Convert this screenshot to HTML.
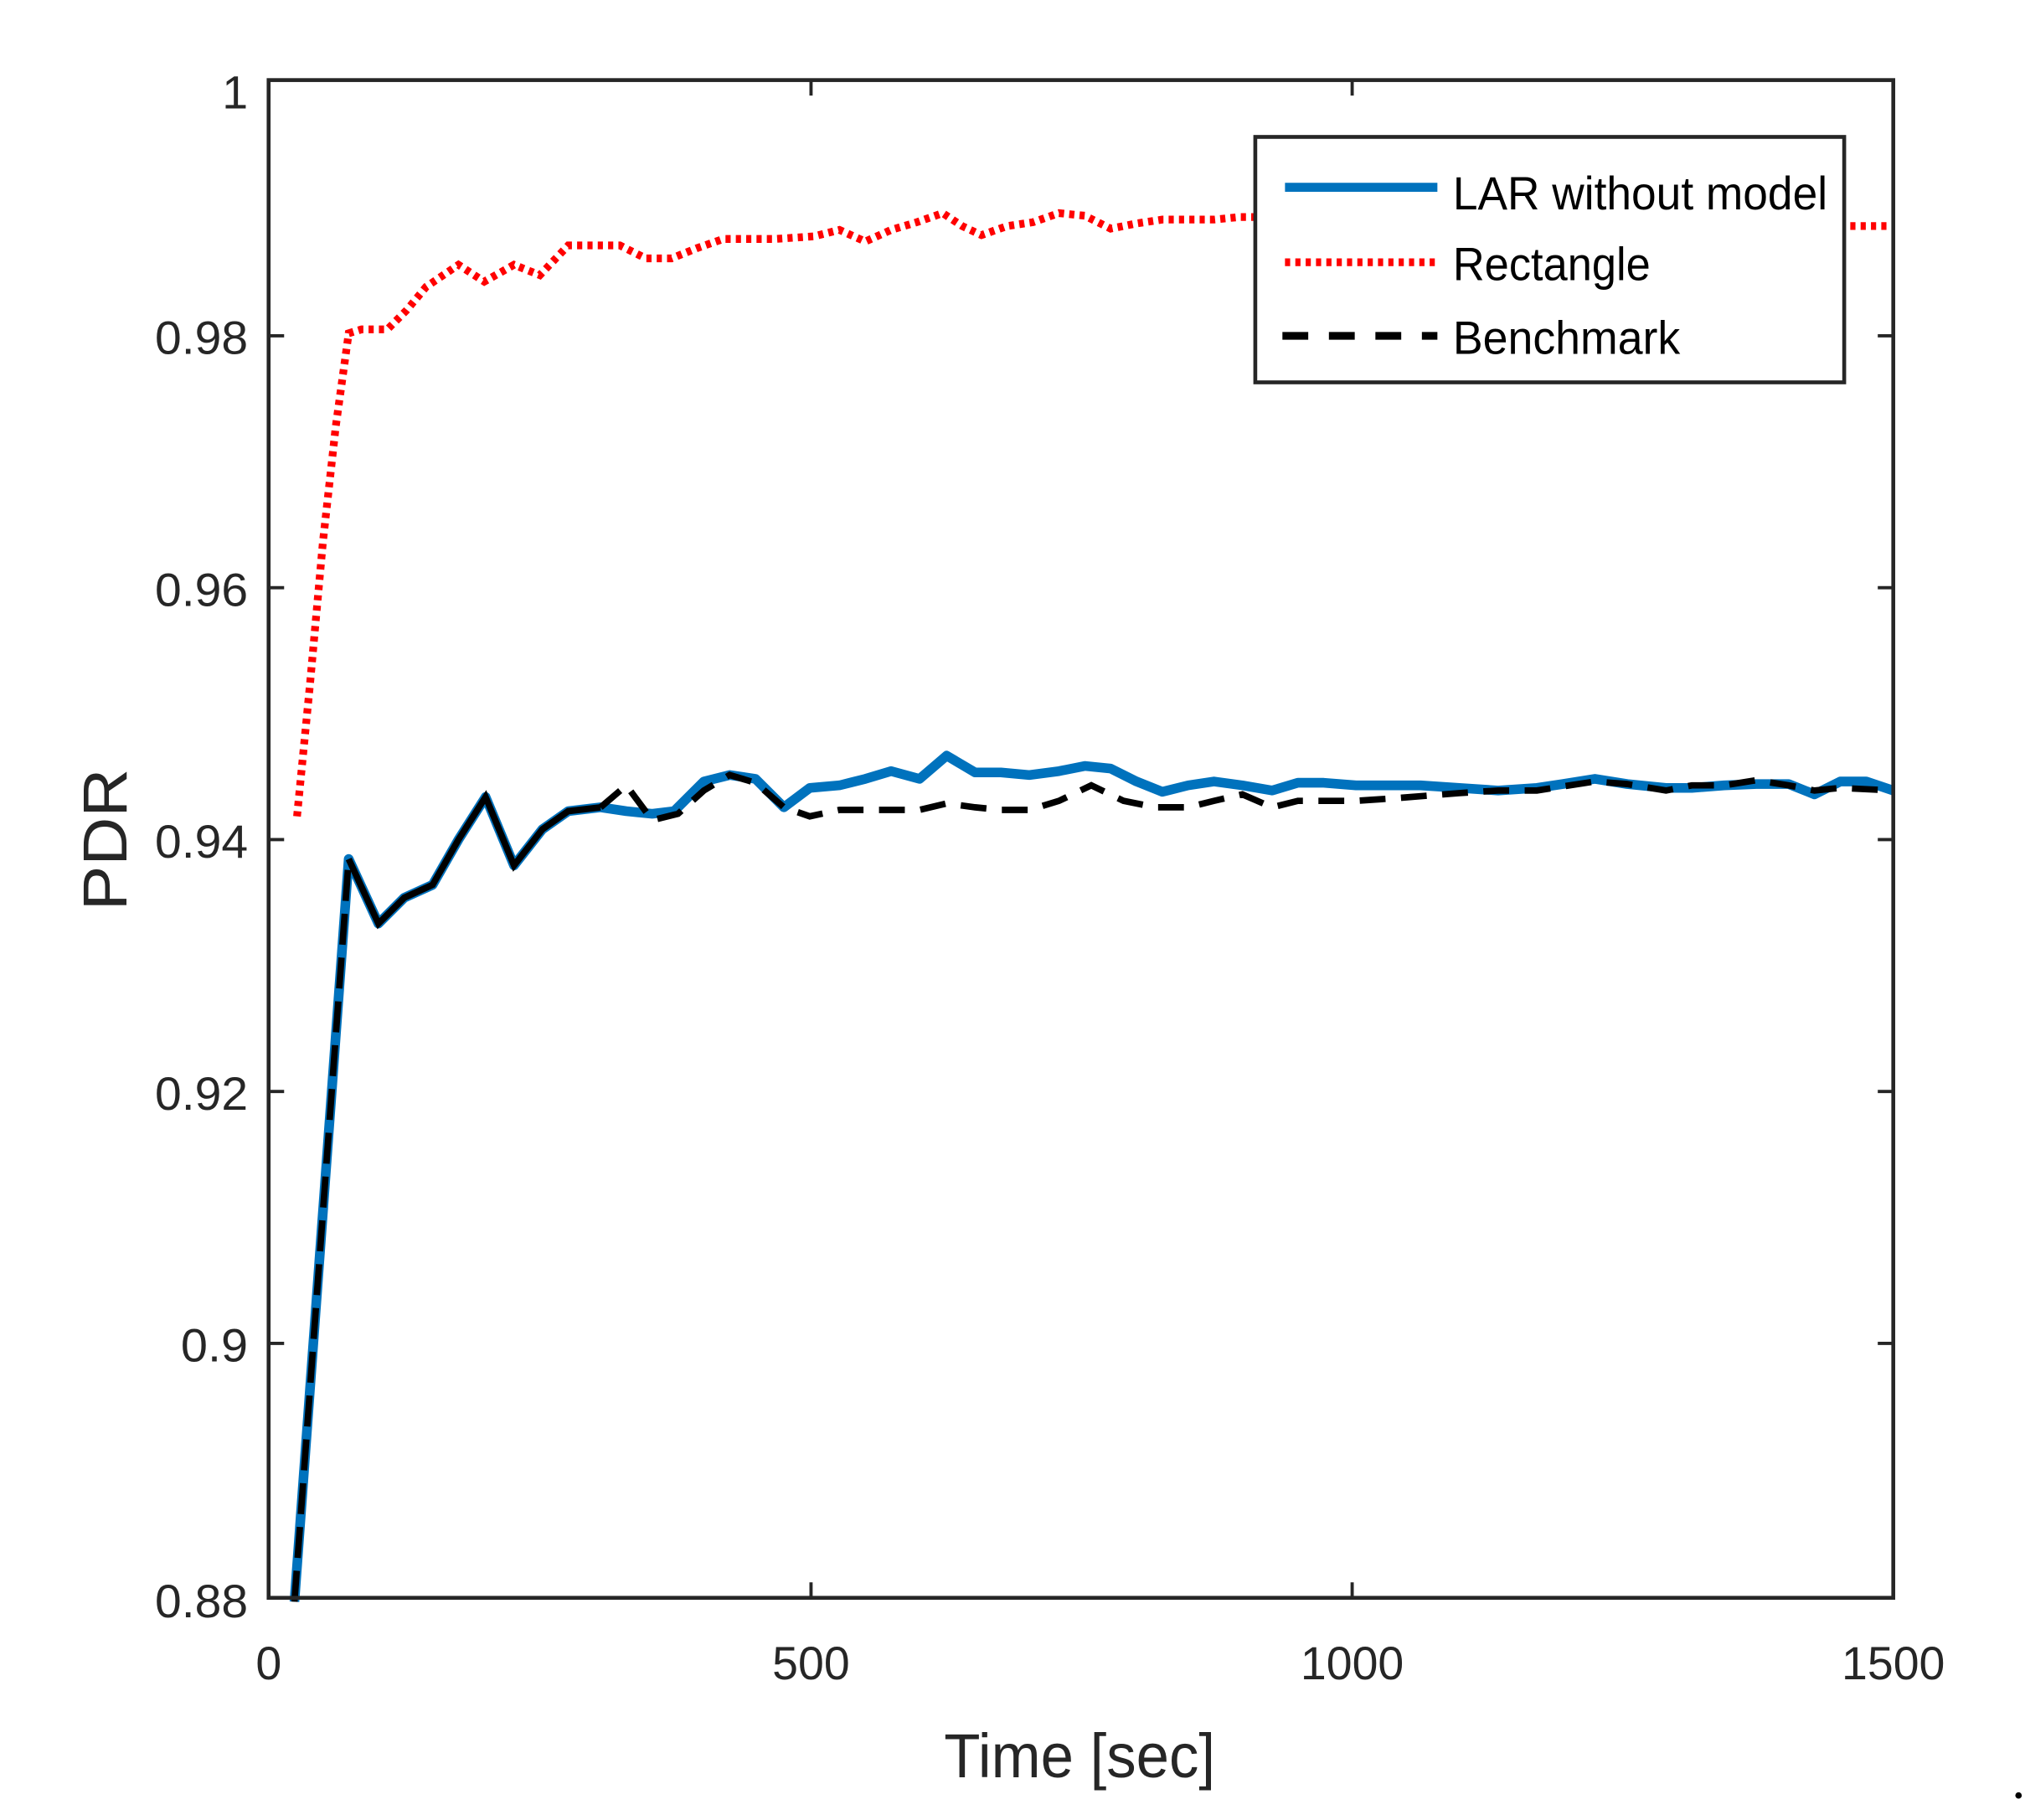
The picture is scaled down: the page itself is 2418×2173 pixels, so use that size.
<!DOCTYPE html>
<html><head><meta charset="utf-8"><style>html,body{margin:0;padding:0;background:#fff;}svg{display:block}</style></head>
<body>
<svg width="2418" height="2173" viewBox="0 0 1568 1409" preserveAspectRatio="none" xmlns="http://www.w3.org/2000/svg" font-family="Liberation Sans, Arial, sans-serif">
<rect width="1568" height="1409" fill="#fff"/>
<polyline fill="none" stroke="#ff0000" stroke-width="6" stroke-dasharray="4,4" points="230,632 240,530 250,420 260,330 270,258 280,255 300,255 315,240 330,222 355,205 375,218 398,205 418,213 440,190 460,190 480,190 500,200 520,200 540,192 560,185 600,185 630,183 650,178 670,187 690,178 710,172 730,165 745,175 760,182 780,175 800,172 820,165 840,167 860,177 880,173 900,170 920,170 940,170 960,168 1000,168 1100,170 1200,172 1300,173 1430,175 1466,175"/>
<polyline fill="none" stroke="#0072bd" stroke-width="7.5" stroke-linejoin="round" points="228,1240 270,665 293,715 313,695 335,685 355,650 376,617 398,670 420,642 440,628 465,625 485,628 505,630 522,628 545,605 565,600 585,603 607,625 627,610 650,608 670,603 690,597 712,603 733,585 755,598 775,598 797,600 820,597 840,593 860,595 880,605 900,613 920,608 940,605 962,608 985,612 1005,606 1025,606 1050,608 1080,608 1100,608 1130,610 1160,612 1190,610 1210,607 1235,603 1260,607 1290,610 1310,610 1335,608 1360,607 1385,607 1405,615 1425,605 1445,605 1466,612"/>
<polyline fill="none" stroke="#000" stroke-width="5" stroke-dasharray="24,10" points="228,1240 270,665"/>
<polyline fill="none" stroke="#000" stroke-width="5" points="270,665 293,715 313,695 335,685 355,650 376,617 398,670 420,642 440,628 465,625"/>
<polyline fill="none" stroke="#000" stroke-width="5" stroke-dasharray="20,12" points="465,625 485,608 505,635 525,630 545,612 565,600 585,606 607,625 627,632 650,627 690,627 712,627 733,622 755,625 775,627 797,627 820,620 845,608 870,620 895,625 920,625 940,620 962,615 985,625 1005,620 1025,620 1050,620 1080,618 1130,614 1160,612 1190,612 1235,605 1260,607 1290,612 1310,608 1335,608 1360,604 1385,608 1405,612 1425,610 1466,612"/>
<rect x="208" y="62" width="1258" height="1175" fill="none" stroke="#262626" stroke-width="3"/>
<g stroke="#262626" stroke-width="2.5">
<line x1="628" y1="62" x2="628" y2="74"/><line x1="1047" y1="62" x2="1047" y2="74"/>
<line x1="628" y1="1237" x2="628" y2="1225"/><line x1="1047" y1="1237" x2="1047" y2="1225"/>
<line x1="208" y1="260" x2="220" y2="260"/><line x1="208" y1="455" x2="220" y2="455"/><line x1="208" y1="650" x2="220" y2="650"/><line x1="208" y1="845" x2="220" y2="845"/><line x1="208" y1="1040" x2="220" y2="1040"/>
<line x1="1466" y1="260" x2="1454" y2="260"/><line x1="1466" y1="455" x2="1454" y2="455"/><line x1="1466" y1="650" x2="1454" y2="650"/><line x1="1466" y1="845" x2="1454" y2="845"/><line x1="1466" y1="1040" x2="1454" y2="1040"/>
</g>
<g font-size="36" fill="#262626" text-anchor="end">
<text x="192" y="84">1</text>
<text x="192" y="274" textLength="72" lengthAdjust="spacingAndGlyphs">0.98</text>
<text x="192" y="469" textLength="72" lengthAdjust="spacingAndGlyphs">0.96</text>
<text x="192" y="664" textLength="72" lengthAdjust="spacingAndGlyphs">0.94</text>
<text x="192" y="859" textLength="72" lengthAdjust="spacingAndGlyphs">0.92</text>
<text x="192" y="1054" textLength="52" lengthAdjust="spacingAndGlyphs">0.9</text>
<text x="192" y="1252" textLength="72" lengthAdjust="spacingAndGlyphs">0.88</text>
</g>
<g font-size="36" fill="#262626" text-anchor="middle">
<text x="208" y="1300">0</text>
<text x="628" y="1300" textLength="60" lengthAdjust="spacingAndGlyphs">500</text>
<text x="1047" y="1300" textLength="80" lengthAdjust="spacingAndGlyphs">1000</text>
<text x="1466" y="1300" textLength="80" lengthAdjust="spacingAndGlyphs">1500</text>
</g>
<text x="836" y="1376" font-size="48" fill="#262626" text-anchor="middle" textLength="210" lengthAdjust="spacingAndGlyphs">Time [sec]</text>
<text transform="translate(98,650) rotate(-90)" font-size="48" fill="#262626" text-anchor="middle" textLength="110" lengthAdjust="spacingAndGlyphs">PDR</text>
<rect x="972" y="106" width="456" height="190" fill="#fff" stroke="#262626" stroke-width="3"/>
<line x1="995" y1="145" x2="1113" y2="145" stroke="#0072bd" stroke-width="7"/>
<line x1="995" y1="203" x2="1113" y2="203" stroke="#ff0000" stroke-width="6" stroke-dasharray="4,4"/>
<line x1="993" y1="260" x2="1113" y2="260" stroke="#000" stroke-width="6" stroke-dasharray="20,16"/>
<g font-size="36" fill="#000">
<text x="1125" y="162" textLength="290" lengthAdjust="spacingAndGlyphs">LAR without model</text>
<text x="1125" y="217" textLength="153" lengthAdjust="spacingAndGlyphs">Rectangle</text>
<text x="1125" y="274" textLength="176" lengthAdjust="spacingAndGlyphs">Benchmark</text>
</g>
<circle cx="1563" cy="1390" r="2.5" fill="#000"/>
</svg>
</body></html>
